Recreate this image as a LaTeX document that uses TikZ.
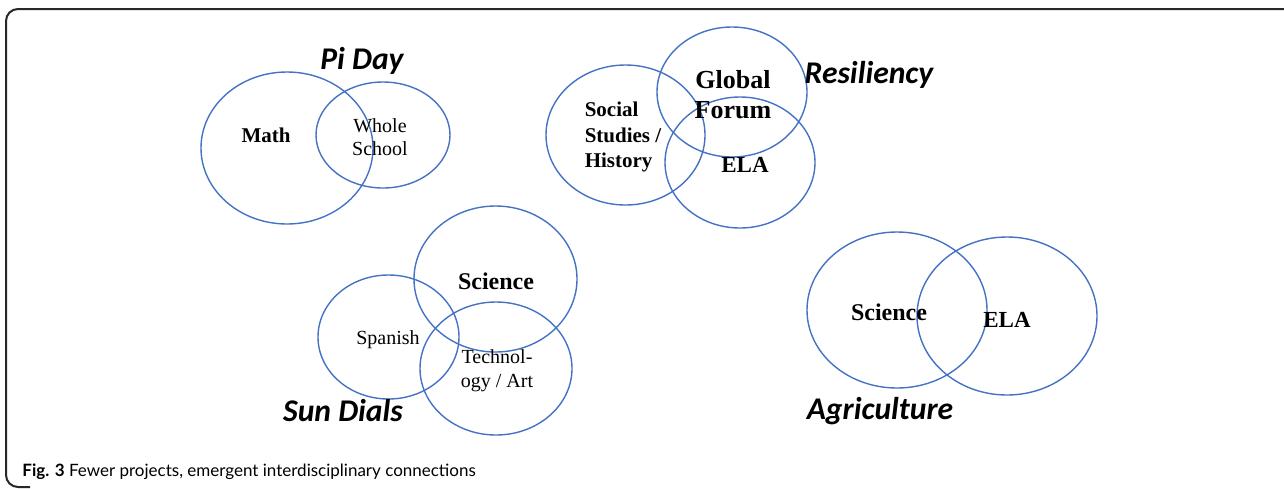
\documentclass[tikz,border=0pt]{standalone}
\usepackage{fontspec}
\setmainfont{Liberation Serif}
\newfontfamily\projfont{Carlito}
\newfontfamily\capfont{Lato}
\usetikzlibrary{shapes.geometric}
\definecolor{vennblue}{RGB}{68,114,196}
\definecolor{framegray}{RGB}{40,40,40}
\tikzset{
  venn/.style={draw=vennblue, line width=0.7pt, ellipse, inner sep=0pt},
  project/.style={font=\projfont\bfseries\itshape\fontsize{15.8}{18}\selectfont, inner sep=0pt},
  subj/.style={font=\bfseries\fontsize{10.5}{12.5}\selectfont, inner sep=0pt, align=center},
  subjlight/.style={font=\fontsize{10}{11.5}\selectfont, inner sep=0pt, align=center},
}
\begin{document}
\begin{tikzpicture}[x=0.5pt,y=-0.5pt]
  \useasboundingbox (0,0) rectangle (1284,488);
  \clip (0,0) rectangle (1284,488);
  % Frame round the figure
  \draw [framegray, line width=1pt, rounded corners=6pt]
    (30,487) -- (6,487) -- (6,9) -- (1300,9);

  % The circles of the four projects
  \foreach \name/\cx/\cy/\rx/\ry in {
    math/287/148/86/76,
    whole/383/135/67/53,
    social/625.5/135/79.5/70,
    forum/732/92/75/65,
    elaR/740/162.5/75/65.5,
    sciS/495.5/279/81.5/73,
    spanish/388.5/337/70.5/62,
    tech/496/368.5/76/66.5,
    sciA/897/310/90/78,
    elaA/1007/316/90/79} {
    \node [venn, minimum width=\rx pt, minimum height=\ry pt] (\name) at (\cx,\cy) {};
  }

  % Project names
  \node [project] (piday) at (362,61) {Pi Day};
  \node [project] (resil) at (869,75) {Resiliency};
  \node [project] (sundial) at (343,411) {Sun Dials};
  \node [project] (agri) at (880,411) {Agriculture};

  % Subjects
  \node [subj] (mathlbl) at (266,135) {Math};
  \node [subjlight] (wholelbl) at (380,137) {Whole\\School};
  \node [subj, align=left, font=\bfseries\fontsize{10.5}{12.8}\selectfont] (sociallbl) at (623,137) {Social\\Studies /\\History};
  \node [subj, font=\bfseries\fontsize{13}{15}\selectfont] (forumlbl) at (733,95) {Global\\Forum};
  \node [subj, font=\bfseries\fontsize{11.5}{13}\selectfont] (elaRlbl) at (745,165) {ELA};
  \node [subj, font=\bfseries\fontsize{12}{14}\selectfont] (sciSlbl) at (496,281) {Science};
  \node [subjlight] (spanishlbl) at (388,340) {Spanish};
  \node [subjlight, font=\fontsize{10}{12}\selectfont] (techlbl) at (497,371) {Technol-\\ogy / Art};
  \node [subj, font=\bfseries\fontsize{12}{14}\selectfont] (sciAlbl) at (889,312) {Science};
  \node [subj, font=\bfseries\fontsize{11.5}{13}\selectfont] (elaAlbl) at (1007,320) {ELA};

  % Caption
  \node [anchor=base west, inner sep=0pt, font=\capfont\fontsize{8.5}{10}\selectfont] (caption) at (22,476)
    {\textbf{Fig. 3} Fewer projects, emergent interdisciplinary connections};
\end{tikzpicture}
\end{document}
